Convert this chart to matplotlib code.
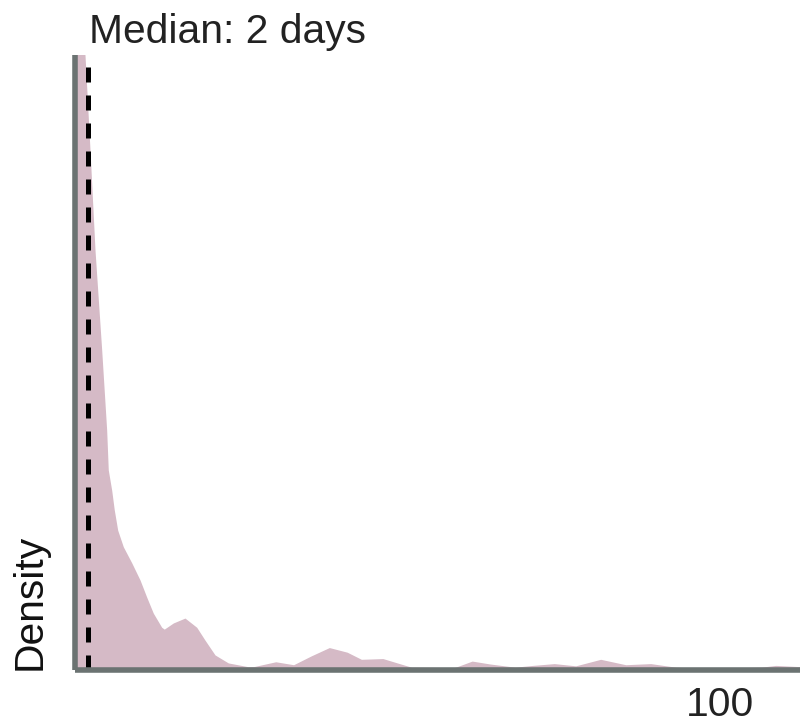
import matplotlib
matplotlib.use("Agg")
import matplotlib.pyplot as plt

# Density curve (x in days, density relative to y-axis top)
days = [0.0, 1.55, 2.33, 3.10, 4.14, 4.91, 5.16, 5.69, 6.09, 6.62, 7.49, 8.79,
        10.08, 11.12, 12.14, 13.44, 13.84, 15.24, 17.05, 18.87, 20.16, 21.71,
        23.77, 26.82, 27.80, 31.12, 33.89, 36.65, 39.43, 42.19, 44.40, 47.74,
        49.94, 52.16, 58.81, 61.57, 64.34, 68.22, 70.99, 74.31, 77.63, 81.50,
        85.38, 89.26, 93.13, 97.52, 106.42, 108.64, 111.94, 112.40]
density = [1.08, 1.000, 0.845, 0.683, 0.520, 0.390, 0.325, 0.292, 0.260, 0.227,
           0.200, 0.174, 0.146, 0.118, 0.092, 0.069, 0.066, 0.076, 0.084, 0.069,
           0.048, 0.024, 0.011, 0.0049, 0.0052, 0.0129, 0.0081, 0.0226, 0.0360,
           0.0285, 0.0169, 0.0181, 0.0111, 0.0041, 0.0033, 0.0140, 0.0093, 0.0041,
           0.0070, 0.0099, 0.0063, 0.0169, 0.0081, 0.0099, 0.0041, 0.0016, 0.0041,
           0.0070, 0.0052, 0.0050]
median_days = 2
median_label = "Median: 2 days"
x_ticks = [100]
x_tick_labels = ["100"]

FONT = ["Liberation Sans", "DejaVu Sans"]
plt.rcParams["font.family"] = FONT
FS = 29.3

W, H = 800, 728
ax_left, ax_bottom_px, ax_top_px = 75.0, 669.7, 55.0
fig = plt.figure(figsize=(W / 100, H / 100), dpi=100)
ax = fig.add_axes([ax_left / W, (H - ax_bottom_px) / H, 1 - ax_left / W,
                   (ax_bottom_px - ax_top_px) / H])

ax.fill_between(days, density, 0, color="#d5bac6", linewidth=0, zorder=1)
ax.axvline(median_days, color="black", linewidth=3.6, linestyle=(0, (3.0, 2.6)), zorder=3)

ax.set_xlim(0, 112.4)
ax.set_ylim(0, 1.0)

for s in ["top", "right"]:
    ax.spines[s].set_visible(False)
for s in ["left", "bottom"]:
    ax.spines[s].set_color("#6b7372")
    ax.spines[s].set_linewidth(4.0)
    ax.spines[s].set_zorder(4)
    ax.spines[s].set_capstyle("butt")

ax.set_xticks(x_ticks)
ax.set_xticklabels(x_tick_labels)
ax.set_yticks([])
ax.tick_params(axis="x", length=0, pad=12, labelsize=FS, labelcolor="#222222")

ax.set_ylabel("Density", fontsize=FS, loc="bottom", labelpad=19, color="#111111")

ax.annotate(median_label, xy=(median_days, 1.0), xycoords=ax.get_xaxis_transform(),
            xytext=(0.5, 8.5), textcoords="offset points",
            ha="left", va="baseline", fontsize=FS, color="#222222",
            annotation_clip=False)
ax.patch.set_visible(False)

fig.savefig("out.png", dpi=100)
